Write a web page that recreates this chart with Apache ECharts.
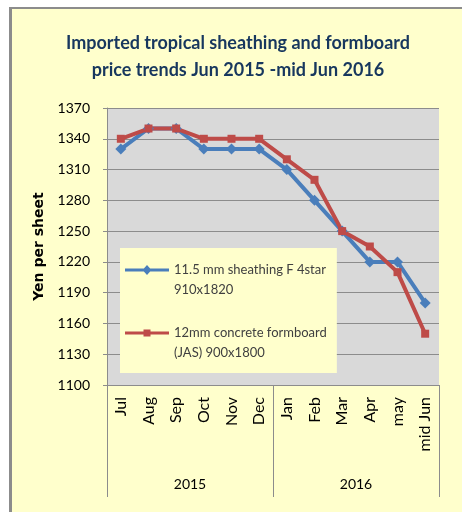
<!DOCTYPE html>
<html>
<head>
<meta charset="utf-8">
<script src="https://cdn.jsdelivr.net/npm/echarts@6/dist/echarts.min.js"></script>
<style>
html,body{margin:0;padding:0;background:#ffffff;}
#bg{position:absolute;left:9px;top:7px;width:453px;height:505px;background:#FFFFCC;border-left:3px solid #8c8c8c;border-top:2px solid #8c8c8c;box-sizing:border-box;}
#chart{position:absolute;left:0;top:0;width:462px;height:512px;}
</style>
</head>
<body>
<div id="bg"></div>
<div id="chart"></div>
<script>
const titleLines = ['Imported tropical sheathing and formboard', 'price trends Jun 2015 -mid Jun 2016'];
const months = ['Jul','Aug','Sep','Oct','Nov','Dec','Jan','Feb','Mar','Apr','may','mid Jun'];
const years = ['2015','2016'];
const sheathingName = '11.5 mm sheathing F 4star\n910x1820';
const sheathing = [1330,1350,1350,1330,1330,1330,1310,1280,1250,1220,1220,1180];
const formboardName = '12mm concrete formboard\n(JAS) 900x1800';
const formboard = [1340,1350,1350,1340,1340,1340,1320,1300,1250,1235,1210,1150];
const yMin = 1100, yMax = 1370, yStep = 30;
const yTitle = 'Yen per sheet';

// legend icons: line + marker drawn on the first text line (box 44x40)
const iconDiamond = 'path://M0,0 M44,40 M0,8.5 L44,8.5 L44,11.5 L0,11.5 Z M22,5 L26.5,10 L22,15 L17.5,10 Z';
const iconSquare = 'path://M0,0 M44,40 M0,8.5 L44,8.5 L44,11.5 L0,11.5 Z M18.5,6.5 L25.5,6.5 L25.5,13.5 L18.5,13.5 Z';

const font = 'Lato, "Open Sans", sans-serif';
const chart = echarts.init(document.getElementById('chart'));
chart.setOption({
  backgroundColor: 'transparent',
  animation: false,
  textStyle: {fontFamily: font},
  title: {
    text: titleLines.join('\n'),
    left: 233,
    top: 25,
    textAlign: 'center',
    textStyle: {color: '#17375E', fontSize: 18, fontWeight: 'bold', lineHeight: 27, fontFamily: font}
  },
  grid: {left: 107, top: 108, right: 23, bottom: 127, show: true, backgroundColor: '#D9D9D9', borderWidth: 0},
  legend: {
    orient: 'vertical',
    left: 120, top: 248,
    padding: [12, 10, 10, 5],
    itemGap: 23,
    itemWidth: 44,
    itemHeight: 40,
    backgroundColor: '#FFFFCC',
    itemStyle: {borderWidth: 0},
    textStyle: {color: '#404040', fontSize: 13, lineHeight: 20, fontFamily: font},
    data: [
      {name: sheathingName, icon: iconDiamond},
      {name: formboardName, icon: iconSquare}
    ]
  },
  xAxis: [
    {
      type: 'category', data: months, boundaryGap: true,
      axisLine: {show: true, lineStyle: {color: '#8c8c8c', width: 1}},
      axisTick: {show: false},
      axisLabel: {rotate: 90, margin: 12, color: '#000', fontSize: 16, fontFamily: font, interval: 0}
    },
    {
      type: 'category', data: years, position: 'bottom', boundaryGap: true,
      axisLine: {show: false},
      axisTick: {show: true, length: 112, lineStyle: {color: '#8c8c8c'}},
      axisLabel: {margin: 92, color: '#000', fontSize: 14, fontFamily: font}
    }
  ],
  yAxis: {
    type: 'value', min: yMin, max: yMax, interval: yStep,
    name: yTitle, nameLocation: 'middle', nameGap: 60, nameRotate: 90,
    nameTextStyle: {color: '#000', fontSize: 14, fontWeight: 'bold', fontFamily: '"DejaVu Sans", sans-serif'},
    axisLine: {show: true, lineStyle: {color: '#8c8c8c'}},
    axisTick: {show: true, length: 4, lineStyle: {color: '#8c8c8c'}},
    splitLine: {show: true, lineStyle: {color: '#8c8c8c', width: 1}},
    axisLabel: {margin: 17, color: '#000', fontSize: 14, fontFamily: font, formatter: v => String(v)}
  },
  series: [
    {
      name: sheathingName, type: 'line', data: sheathing,
      symbol: 'diamond', symbolSize: 11,
      lineStyle: {color: '#4A7EBB', width: 4},
      itemStyle: {color: '#4A7EBB'}
    },
    {
      name: formboardName, type: 'line', data: formboard,
      symbol: 'rect', symbolSize: 8,
      lineStyle: {color: '#BE4B48', width: 4},
      itemStyle: {color: '#BE4B48'}
    }
  ]
});
</script>
</body>
</html>
